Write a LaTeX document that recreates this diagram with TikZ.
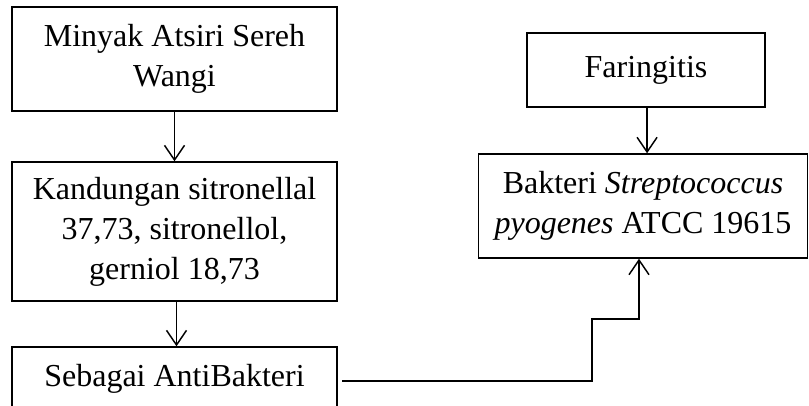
\documentclass[tikz,border=0pt]{standalone}
\usepackage{fontspec}
\setmainfont{Liberation Serif}
\usetikzlibrary{arrows.meta, positioning}

\begin{document}
\begin{tikzpicture}[x=0.375pt, y=-0.375pt,
  kotak/.style={rectangle, draw=black, line width=0.55pt, align=center, inner sep=0pt, font=\fontsize{12}{15}\selectfont},
  panah/.style={line width=0.55pt, -{Straight Barb[length=5.5pt, width=7.5pt]}}]
\useasboundingbox (0,0) rectangle (809,406);

% Left column
\node[kotak, minimum width=121.9pt, minimum height=39pt] (minyak) at (174.5,59) {Minyak Atsiri Sereh\\Wangi};
\node[kotak, minimum width=121.9pt, minimum height=52.1pt] (kandungan) at (174.5,231.5) {Kandungan sitronellal\\37,73, sitronellol,\\gerniol 18,73};
\node[kotak, minimum width=121.9pt, minimum height=23.6pt] (antibakteri) at (174.5,378.5) {Sebagai AntiBakteri};

% Right column
\node[kotak, minimum width=89.25pt, minimum height=27.75pt] (faringitis) at (646,70) {Faringitis};
\node[kotak, minimum width=123.4pt, minimum height=39pt] (bakteri) at (643,206) {Bakteri \textit{Streptococcus}\\\textit{pyogenes} ATCC 19615};

% Connectors
\draw[panah] (minyak.south) -- (kandungan.north);
\draw[panah] ([xshift=0.75pt]kandungan.south) -- ([xshift=0.75pt]antibakteri.north);
\draw[panah] ([xshift=0.4pt]faringitis.south) -- ([xshift=0.4pt]faringitis.south |- bakteri.north);
\coordinate (mulai) at (342,381);
\draw[panah] (mulai) -- (592,381) -- (592,319) -- (639,319) -- (639,319 |- bakteri.south);
\end{tikzpicture}
\end{document}
